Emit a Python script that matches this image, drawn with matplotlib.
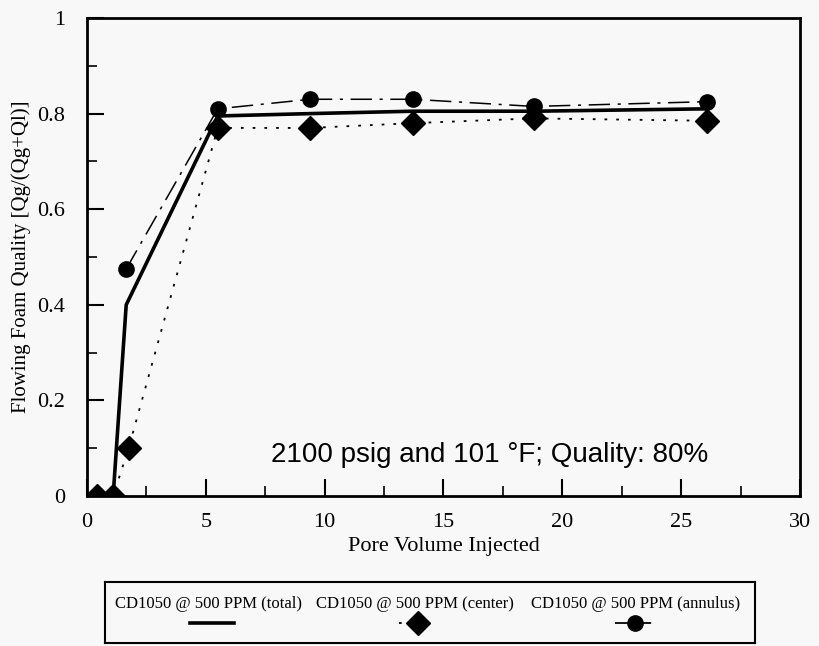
""" Flowing foam quality vs pore volume injected """
import numpy as np
import matplotlib
matplotlib.use('Agg')
import matplotlib.pyplot as plt
from matplotlib.lines import Line2D
from matplotlib.ticker import MultipleLocator

#%%
# Donnees
pv_total = [0.4, 1.1, 1.65, 5.5, 9.4, 13.7, 18.8, 26.1]
q_total = [0.0, 0.0, 0.40, 0.795, 0.80, 0.805, 0.805, 0.81]

pv_center = [0.4, 1.1, 1.75, 5.5, 9.4, 13.7, 18.8, 26.1]
q_center = [0.0, 0.0, 0.10, 0.77, 0.77, 0.78, 0.79, 0.785]

pv_annulus = [1.65, 5.5, 9.4, 13.7, 18.8, 26.1]
q_annulus = [0.475, 0.81, 0.83, 0.83, 0.815, 0.825]

legend_labels = ['CD1050 @ 500 PPM (total)', 'CD1050 @ 500 PPM (center)',
                 'CD1050 @ 500 PPM (annulus)']

serif = 'Liberation Serif'

#%%
fig = plt.figure(figsize=(8.2, 6.46), dpi=100)
fig.patch.set_facecolor('#f8f8f8')
ax = fig.add_axes([87/820, 150/646, 713/820, 478/646])
ax.set_facecolor('#f8f8f8')

ax.plot(pv_total, q_total, '-', color='black', lw=2.6)
ax.plot(pv_center, q_center, color='black', lw=1.3, linestyle=(0, (1.5, 5)),
        marker='D', ms=12, mfc='black', mec='black')
ax.plot(pv_annulus, q_annulus, color='black', lw=1.1,
        linestyle=(0, (14, 5, 2, 5)), marker='o', ms=11)

ax.set_xlim(0, 30)
ax.set_ylim(0, 1)
ax.xaxis.set_major_locator(MultipleLocator(5))
ax.xaxis.set_minor_locator(MultipleLocator(2.5))
ax.yaxis.set_major_locator(MultipleLocator(0.2))
ax.yaxis.set_minor_locator(MultipleLocator(0.1))

def yfmt(v, p):
    v = round(v, 2)
    if v == 0 or v == 1:
        return '%d' % v
    return '%.1f' % v

ax.yaxis.set_major_formatter(plt.FuncFormatter(yfmt))
ax.tick_params(which='both', direction='in', top=False, right=False)
ax.tick_params(which='major', length=12, width=1.5, labelsize=16)
ax.tick_params(axis='x', which='major', pad=12)
ax.tick_params(axis='y', which='major', pad=16)
ax.tick_params(which='minor', length=7, width=1.2)
for lab in ax.get_xticklabels() + ax.get_yticklabels():
    lab.set_family(serif)
for s in ax.spines.values():
    s.set_linewidth(2)

ax.set_xlabel('Pore Volume Injected', family=serif, fontsize=16, labelpad=4)
ax.set_ylabel('Flowing Foam Quality [Qg/(Qg+Ql)]', family=serif, fontsize=15, labelpad=4)

ax.text(7.75, 0.086, '2100 psig and 101 °F; Quality: 80%', family='Liberation Sans',
        fontsize=20, va='center', ha='left')

#%%
# Legende dans un cadre sous le graphique
lax = fig.add_axes([105/820, 3/646, 650/820, 61/646])
lax.set_xlim(0, 1)
lax.set_ylim(0, 1)
lax.set_xticks([])
lax.set_yticks([])
lax.set_facecolor('#f8f8f8')
for s in lax.spines.values():
    s.set_linewidth(1.5)
cols = [0.16, 0.477, 0.817]
for xc, lab in zip(cols, legend_labels):
    lax.text(xc, 0.64, lab, family=serif, fontsize=12, ha='center', va='center')
lax.add_line(Line2D([0.131, 0.198], [0.33, 0.33], color='black', lw=2.6))
lax.add_line(Line2D([0.452, 0.482, 0.513], [0.33, 0.33, 0.33], color='black', lw=1.3,
                    linestyle=(0, (1.5, 14)), marker='D', ms=12, markevery=[1]))
lax.add_line(Line2D([0.785, 0.815, 0.846], [0.33, 0.33, 0.33], color='black', lw=1.3,
                    linestyle=(0, (20, 12, 1.5, 5)), marker='o', ms=11, markevery=[1]))

fig.savefig('out.png', dpi=100, facecolor=fig.get_facecolor())
